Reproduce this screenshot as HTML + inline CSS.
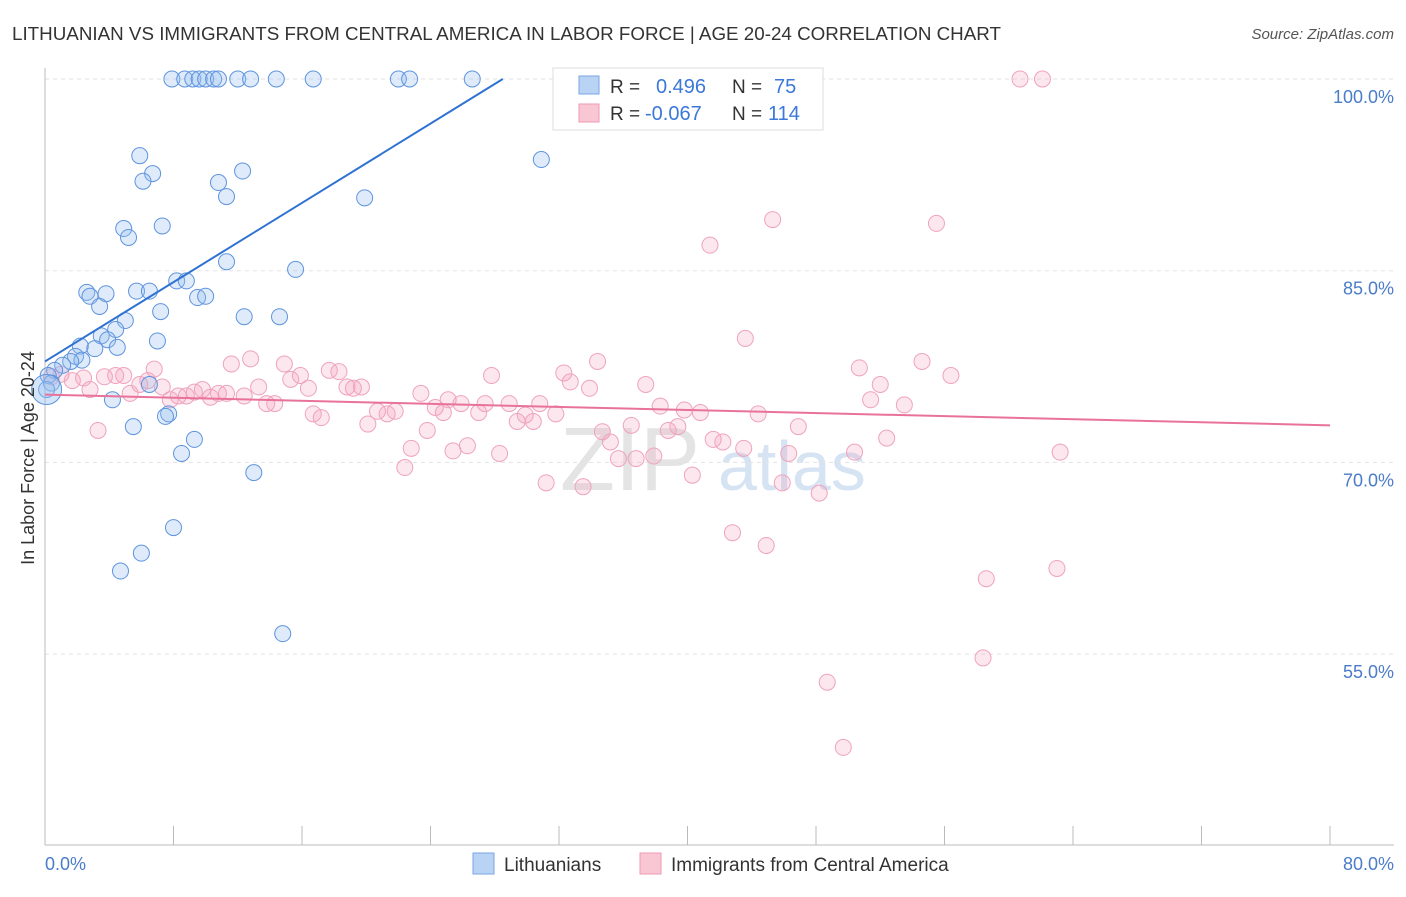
<!DOCTYPE html>
<html><head><meta charset="utf-8">
<style>
body{margin:0;background:#fff;font-family:"Liberation Sans",sans-serif;}
svg text{font-family:"Liberation Sans",sans-serif;}
</style></head>
<body>
<svg id="chart" width="1406" height="892">
<text x="12" y="40" font-size="18" fill="#333" textLength="989" lengthAdjust="spacingAndGlyphs">LITHUANIAN VS IMMIGRANTS FROM CENTRAL AMERICA IN LABOR FORCE | AGE 20-24 CORRELATION CHART</text>
<text x="1394" y="39" font-size="15" fill="#555" text-anchor="end" font-style="italic">Source: ZipAtlas.com</text>
<text x="560" y="490" font-size="90" fill="#e4e4e4" font-family="Liberation Serif">ZIP</text>
<text x="718" y="490" font-size="70" fill="#d5e3f3">atlas</text>
<g id="grid"></g>
<g id="axes"></g>
<g id="pts"></g>
<g id="lines"></g>
<text x="34" y="458" font-size="18" fill="#333" text-anchor="middle" transform="rotate(-90 34 458)">In Labor Force | Age 20-24</text>
<text x="45" y="870" font-size="18" fill="#4a7cc9">0.0%</text>
<text x="1394" y="870" font-size="18" fill="#4a7cc9" text-anchor="end">80.0%</text>
<g>
<rect x="553" y="68" width="270" height="62" fill="#fff" stroke="#ddd"/>
<rect x="579" y="76" width="20" height="18" fill="#b9d3f5" stroke="#7aa6e3"/>
<rect x="579" y="104" width="20" height="18" fill="#f9c6d4" stroke="#ee9ab3"/>
<text x="610" y="93" font-size="19" fill="#333">R =</text>
<text x="656" y="93" font-size="20" fill="#3b78d8">0.496</text>
<text x="732" y="93" font-size="19" fill="#333">N =</text>
<text x="774" y="93" font-size="20" fill="#3b78d8">75</text>
<text x="610" y="120" font-size="19" fill="#333">R =</text>
<text x="645" y="120" font-size="20" fill="#3b78d8">-0.067</text>
<text x="732" y="120" font-size="19" fill="#333">N =</text>
<text x="768" y="120" font-size="20" fill="#3b78d8">114</text>
</g>
<g>
<rect x="473" y="853" width="21" height="21" fill="#b9d3f5" stroke="#7aa6e3"/>
<text x="504" y="871" font-size="19" fill="#333">Lithuanians</text>
<rect x="640" y="853" width="21" height="21" fill="#f9c6d4" stroke="#ee9ab3"/>
<text x="671" y="871" font-size="19" fill="#333">Immigrants from Central America</text>
</g>
</svg>
<script>
const yTicks=[100,85,70,55];
const xTicks=[0,8,16,24,32,40,48,56,64,72,80];
const blueX=[7.9,8.7,9.2,9.6,10.0,10.5,10.8,12.0,12.8,14.4,16.7,22.0,22.7,26.6,5.9,30.9,6.7,6.1,12.3,10.8,11.3,19.9,4.9,7.3,5.2,11.3,15.6,8.2,8.8,2.6,2.8,3.8,5.7,6.5,9.5,10.0,3.4,7.2,12.4,14.6,5.0,4.4,3.5,7.0,3.9,4.5,2.2,3.1,1.9,2.3,1.6,1.1,0.6,0.2,0.4,0.1,6.5,4.2,7.7,7.5,5.5,9.3,8.5,13.0,8.0,6.0,4.7,14.8];
const blueY=[100,100,100,100,100,100,100,100,100,100,100,100,100,100,94.0,93.7,92.6,92.0,92.8,91.9,90.8,90.7,88.3,88.5,87.6,85.7,85.1,84.2,84.2,83.3,83.0,83.2,83.4,83.4,82.9,83.0,82.2,81.8,81.4,81.4,81.1,80.4,79.9,79.5,79.6,79.0,79.1,78.9,78.3,78.0,77.9,77.6,77.2,76.8,76.2,75.7,76.1,74.9,73.8,73.6,72.8,71.8,70.7,69.2,64.9,62.9,61.5,56.6];
const pinkX=[47.6,60.7,62.1,45.3,55.5,41.4,43.6,54.6,34.4,50.7,56.4,52.0,32.3,32.7,27.8,37.4,33.9,51.4,53.5,38.3,39.8,40.8,44.4,46.9,39.4,36.5,38.8,41.6,42.2,52.4,34.7,35.2,43.5,46.3,50.4,63.2,35.7,36.8,37.9,40.3,45.9,48.2,31.2,33.5,42.8,44.9,58.6,63.0,58.4,48.7,49.7,0.4,1.0,1.7,2.4,2.8,3.3,3.7,4.4,4.9,5.3,5.9,6.8,6.4,7.3,7.8,8.3,8.8,9.3,9.8,10.3,10.8,11.3,11.6,12.4,12.8,13.3,13.8,14.3,14.9,15.3,15.9,16.4,16.7,17.2,17.7,18.3,18.8,19.2,19.7,20.1,20.7,21.3,21.8,22.4,22.8,23.4,23.8,24.3,24.8,25.1,25.4,25.9,26.3,27.0,27.4,28.3,28.9,29.4,29.9,30.4,30.8,31.8];
const pinkY=[100,100,100,89.0,88.7,87.0,79.7,77.9,77.9,77.4,76.8,76.1,77.0,76.3,76.8,76.1,75.8,74.9,74.5,74.4,74.1,73.9,73.8,72.8,72.8,72.9,72.5,71.8,71.6,71.9,72.4,71.6,71.1,70.7,70.8,70.8,70.3,70.3,70.5,69.0,68.4,67.6,68.4,68.1,64.5,63.5,60.9,61.7,54.7,52.8,47.7,76.7,76.9,76.4,76.6,75.7,72.5,76.7,76.8,76.8,75.4,76.1,77.3,76.4,75.9,74.9,75.2,75.2,75.5,75.7,75.1,75.4,75.4,77.7,75.2,78.1,75.9,74.6,74.6,77.7,76.5,76.8,75.8,73.8,73.5,77.2,77.1,75.9,75.8,75.9,73.0,74.0,73.8,74.0,69.6,71.1,75.4,72.5,74.3,73.9,74.9,70.9,74.6,71.3,73.9,74.6,70.7,74.6,73.2,73.7,73.2,74.6,73.8];
const blueTrend=[[0,77.9],[28.5,100]];
const pinkTrend=[[0,75.3],[80,72.9]];
const sx=v=>45+v/80*1285;
const sy=v=>79+(100-v)*12.78;
const NS='http://www.w3.org/2000/svg';
function mk(tag,attrs,parent){const e=document.createElementNS(NS,tag);for(const k in attrs)e.setAttribute(k,attrs[k]);parent.appendChild(e);return e;}
const grid=document.getElementById('grid'),axes=document.getElementById('axes'),pts=document.getElementById('pts'),lines=document.getElementById('lines');
yTicks.forEach(t=>{
 const l=mk('line',{x1:45,x2:1394,y1:sy(t),y2:sy(t),stroke:'#e2e2e2','stroke-dasharray':'4,4'},grid);
 
 
 const tx=mk('text',{x:1394,y:sy(t)+24,'font-size':18,fill:'#4a7cc9','text-anchor':'end'},grid);
 tx.textContent=t.toFixed(1)+'%';
 
 
});
const ax=mk('line',{x1:45,x2:45,y1:68,y2:845,stroke:'#bbb'},axes);


const bx=mk('line',{x1:45,x2:1394,y1:845,y2:845,stroke:'#bbb'},axes);


xTicks.forEach(t=>{
 const l=mk('line',{x1:sx(t),x2:sx(t),y1:826,y2:845,stroke:'#bbb'},axes);
 
 
});
pinkX.forEach((x,i)=>{
 const c=mk('circle',{cx:sx(x),cy:sy(pinkY[i]),r:8,fill:'rgba(244,160,188,0.25)',stroke:'#efa3bc','stroke-width':1},pts);
 
 
});
blueX.forEach((x,i)=>{
 const c=mk('circle',{cx:sx(x),cy:sy(blueY[i]),r:8,fill:'rgba(150,190,240,0.3)',stroke:'#5e94de','stroke-width':1},pts);
 
 
});
const big=mk('circle',{cx:sx(0.1),cy:sy(75.7),r:15,fill:'rgba(150,190,240,0.4)',stroke:'#5e94de'},pts);


const bl=mk('line',{x1:sx(blueTrend[0][0]),y1:sy(blueTrend[0][1]),x2:sx(blueTrend[1][0]),y2:sy(blueTrend[1][1]),stroke:'#2e72d2','stroke-width':2},lines);


const pl=mk('line',{x1:sx(pinkTrend[0][0]),y1:sy(pinkTrend[0][1]),x2:sx(pinkTrend[1][0]),y2:sy(pinkTrend[1][1]),stroke:'#e8729a','stroke-width':2},lines);


</script>
</body></html>
